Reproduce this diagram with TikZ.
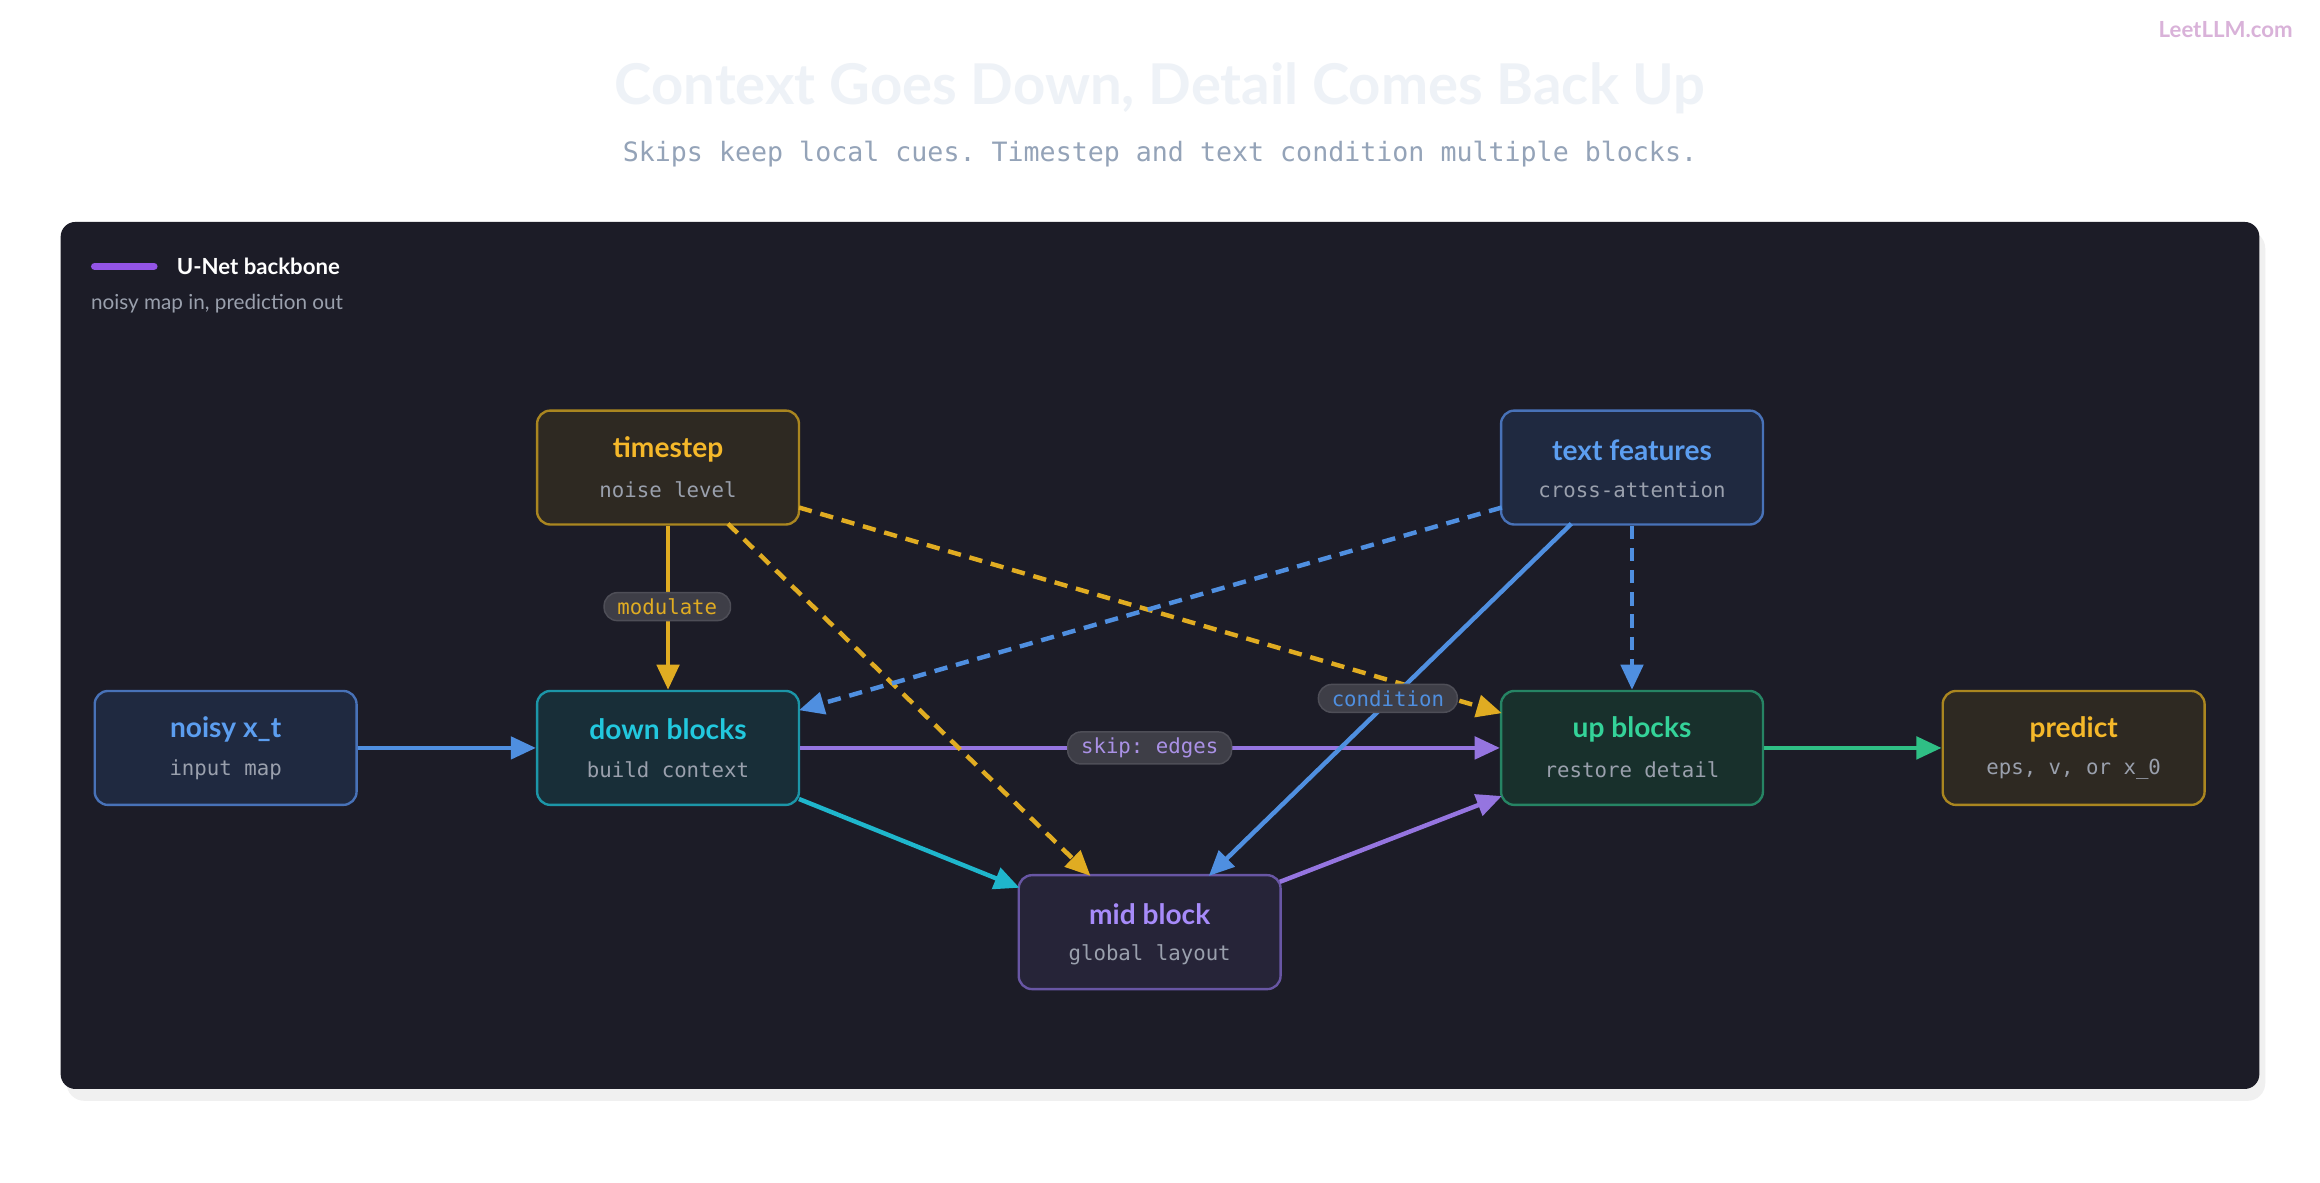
\documentclass[tikz,border=0pt]{standalone}
\usepackage{fontspec}
\setmainfont{Lato}
\setmonofont{DejaVu Sans Mono}
\usetikzlibrary{arrows.meta,positioning}
\definecolor{panel}{HTML}{1C1C27}
\definecolor{blueE}{HTML}{4F8FE0}
\definecolor{yelE}{HTML}{E0AC22}
\definecolor{purE}{HTML}{9575E0}
\definecolor{cyanE}{HTML}{1FB6CC}
\definecolor{greenE}{HTML}{2FBF85}
\definecolor{subG}{HTML}{9AA0AD}
\tikzset{
  x=1pt,y=-1pt,
  box/.style={draw,line width=1.6pt,rounded corners=9pt,minimum width=177pt,minimum height=77pt,inner sep=0},
  ttl/.style={font=\bfseries\fontsize{19}{19}\selectfont},
  sub/.style={font=\ttfamily\fontsize{14}{14}\selectfont,text=subG},
  edge/.style={line width=3pt,-{Triangle[length=17pt,width=15pt]}},
  dsh/.style={edge,dash pattern=on 9pt off 6pt},
  pill/.style={fill=panel!85!white,draw=white!22!panel,line width=1pt,rounded corners=9pt,inner xsep=9pt,inner ysep=4pt,font=\ttfamily\fontsize{14}{14}\selectfont},
}
\begin{document}
\begin{tikzpicture}
\useasboundingbox (0,0) rectangle (1568,799);
\fill[white] (0,0) rectangle (1568,799);
% watermark
\node[font=\bfseries\fontsize{15}{15}\selectfont,text=violet!30!white,anchor=east] (wm) at (1553,20) {LeetLLM.com};
% title
\node[font=\bfseries\fontsize{38}{38}\selectfont,text={rgb,255:red,238;green,242;blue,247}] (title2) at (784,60) {Context Goes Down, Detail Comes Back Up};
\node[font=\ttfamily\fontsize{18}{18}\selectfont,text={rgb,255:red,148;green,163;blue,184}] (subtitle) at (784,104) {Skips keep local cues. Timestep and text condition multiple blocks.};
% panel
\fill[black!6,rounded corners=12pt] (45,156) rectangle (1531,744);
\fill[panel,rounded corners=10pt] (41,150) rectangle (1527,736);
% legend
\draw[line width=5pt,line cap=round,color={rgb,255:red,147;green,84;blue,230}] (64,180) -- (104,180);
\node[anchor=west,font=\bfseries\fontsize{15}{15}\selectfont,text=white] (leg) at (116,180) {U-Net backbone};
\node[anchor=west,font=\fontsize{14}{14}\selectfont,text=subG] (legs) at (58,205) {noisy map in, prediction out};
% nodes
\node[box,fill={rgb,255:red,31;green,41;blue,64},draw={rgb,255:red,72;green,114;blue,184}] (noisy) at (152.5,505.5) {};
\node[ttl,text={rgb,255:red,92;green,158;blue,240}] at (152.5,493) {noisy x\_t};
\node[sub] at (152.5,520) {input map};
\node[box,fill={rgb,255:red,24;green,46;blue,56},draw={rgb,255:red,28;green,150;blue,168}] (down) at (451.5,505.5) {};
\node[ttl,text={rgb,255:red,34;green,200;blue,222}] at (451.5,493) {down blocks};
\node[sub] at (451.5,520) {build context};
\node[box,fill={rgb,255:red,46;green,41;blue,34},draw={rgb,255:red,170;green,134;blue,32}] (time) at (451.5,316) {};
\node[ttl,text={rgb,255:red,245;green,184;blue,42}] at (451.5,304) {timestep};
\node[sub] at (451.5,331) {noise level};
\node[box,fill={rgb,255:red,38;green,36;blue,56},draw={rgb,255:red,104;green,86;blue,164}] (mid) at (777,630) {};
\node[ttl,text={rgb,255:red,167;green,139;blue,250}] at (777,618) {mid block};
\node[sub] at (777,645) {global layout};
\node[box,fill={rgb,255:red,31;green,41;blue,64},draw={rgb,255:red,72;green,114;blue,184}] (text) at (1103,316) {};
\node[ttl,text={rgb,255:red,92;green,158;blue,240}] at (1103,304) {text features};
\node[sub] at (1103,331) {cross-attention};
\node[box,fill={rgb,255:red,24;green,48;blue,44},draw={rgb,255:red,38;green,132;blue,100}] (up) at (1103,505.5) {};
\node[ttl,text={rgb,255:red,52;green,211;blue,153}] at (1103,493) {up blocks};
\node[sub] at (1103,520) {restore detail};
\node[box,fill={rgb,255:red,46;green,41;blue,34},draw={rgb,255:red,170;green,134;blue,32}] (pred) at (1401.5,505.5) {};
\node[ttl,text={rgb,255:red,245;green,184;blue,42}] at (1401.5,493) {predict};
\node[sub] at (1401.5,520) {eps, v, or x\_0};
% coordinates
\coordinate (tA) at (492,354); \coordinate (mA) at (737,592);
\coordinate (tB) at (540,343); \coordinate (uB) at (1015,482);
\coordinate (xA) at (1015,343); \coordinate (dA) at (540,480);
\coordinate (xB) at (1062,354); \coordinate (mB) at (817,592);
\coordinate (dC) at (540,540); \coordinate (mC) at (689,600);
\coordinate (mD) at (865,596); \coordinate (uD) at (1015,538);
% edges
\draw[edge,purE] (down.east) -- (up.west);
\draw[edge,cyanE] (dC) -- (mC);
\draw[edge,purE] (mD) -- (uD);
\draw[dsh,yelE] (tA) -- (mA);
\draw[dsh,yelE] (tB) -- (uB);
\draw[dsh,blueE] (xA) -- (dA);
\draw[edge,blueE] (xB) -- (mB);
\draw[dsh,blueE] (text.south) -- (up.north);
\draw[edge,blueE] (noisy.east) -- (down.west);
\draw[edge,yelE] (time.south) -- (down.north);
\draw[edge,greenE] (up.east) -- (pred.west);
% labels
\node[pill,text=yelE] (l1) at (451,410) {modulate};
\node[pill,text=purE!80!white] (l2) at (777,505.5) {skip: edges};
\node[pill,text=blueE] (l3) at (938,472) {condition};
\end{tikzpicture}
\end{document}
